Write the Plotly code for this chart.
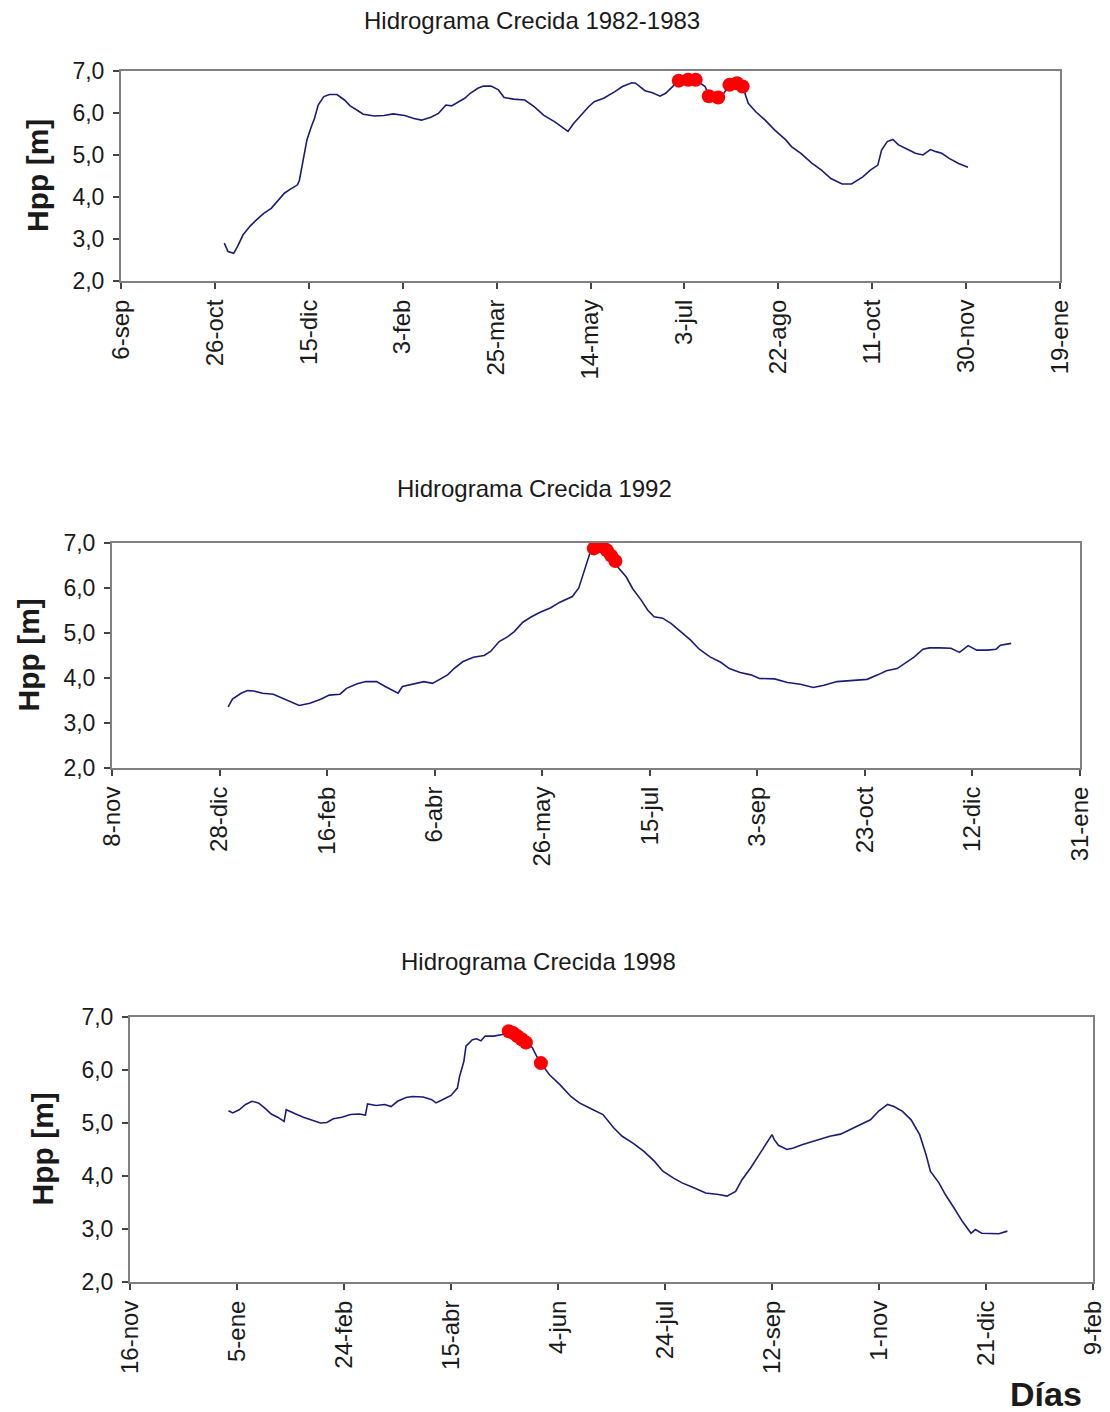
import pandas as pd
import plotly.graph_objects as go

W, H = 1110, 1412

# ---- Hidrograma Crecida 1982-1983 (days counted from 6-sep-1982) ----
start_1983 = "1982-09-06"
days_1983 = [55, 57, 60, 62, 65, 69, 72, 76, 80, 83, 87, 90, 94, 95, 97, 99, 101, 103, 105, 108,
             111, 115, 119, 122, 126, 129, 135, 140, 145, 151, 156, 160, 165, 169, 171, 173, 176,
             179, 183, 186, 190, 193, 197, 201, 204, 209, 215, 220, 225, 231, 235, 238, 241, 245,
             249, 252, 257, 263, 267, 272, 274, 279, 283, 287, 290, 294, 297, 302, 306, 311, 313,
             318, 321, 324, 328, 331, 334, 338, 343, 348, 354, 357, 362, 368, 373, 378, 384, 389,
             395, 399, 403, 405, 408, 411, 414, 419, 423, 427, 431, 434, 437, 441, 446, 451]
hpp_1983 = [2.90, 2.70, 2.66, 2.82, 3.10, 3.32, 3.45, 3.61, 3.73, 3.89, 4.09, 4.18, 4.29, 4.40,
            4.85, 5.36, 5.63, 5.87, 6.19, 6.39, 6.44, 6.44, 6.31, 6.17, 6.06, 5.97, 5.93, 5.94,
            5.98, 5.94, 5.87, 5.83, 5.90, 5.99, 6.09, 6.19, 6.17, 6.25, 6.35, 6.47, 6.59, 6.64,
            6.64, 6.55, 6.37, 6.33, 6.31, 6.15, 5.95, 5.79, 5.65, 5.56, 5.75, 5.95, 6.15, 6.27,
            6.35, 6.51, 6.63, 6.72, 6.71, 6.53, 6.48, 6.40, 6.47, 6.64, 6.77, 6.79, 6.79, 6.63,
            6.43, 6.35, 6.47, 6.67, 6.71, 6.63, 6.23, 6.03, 5.83, 5.60, 5.36, 5.20, 5.04, 4.80,
            4.64, 4.44, 4.31, 4.31, 4.48, 4.64, 4.76, 5.12, 5.32, 5.37, 5.24, 5.13, 5.04, 5.00,
            5.13, 5.08, 5.04, 4.92, 4.80, 4.71]
peak_days_1983 = [297, 302, 306, 313, 318, 324, 328, 331]
peak_hpp_1983 = [6.77, 6.79, 6.79, 6.40, 6.37, 6.67, 6.71, 6.63]
ticks_1983 = ["6-sep", "26-oct", "15-dic", "3-feb", "25-mar", "14-may", "3-jul",
              "22-ago", "11-oct", "30-nov", "19-ene"]

# ---- Hidrograma Crecida 1992 (days counted from 8-nov-1991) ----
start_1992 = "1991-11-08"
days_1992 = [54, 56, 60, 63, 66, 70, 75, 80, 84, 87, 92, 97, 101, 106, 109, 114, 118, 123, 127,
             130, 133, 135, 140, 145, 149, 153, 156, 159, 163, 168, 173, 176, 180, 184, 187, 191,
             195, 199, 204, 208, 214, 217, 220, 222, 224, 226, 228, 231, 233, 235, 239, 242, 246,
             249, 252, 256, 260, 264, 269, 273, 278, 283, 287, 292, 297, 301, 308, 314, 320, 326,
             331, 337, 345, 351, 356, 360, 365, 369, 373, 377, 380, 385, 390, 394, 398, 402, 407,
             411, 413, 418]
hpp_1992 = [3.36, 3.53, 3.66, 3.72, 3.71, 3.66, 3.64, 3.53, 3.44, 3.39, 3.44, 3.53, 3.62, 3.64,
            3.77, 3.87, 3.92, 3.92, 3.81, 3.73, 3.66, 3.81, 3.87, 3.92, 3.88, 3.98, 4.07, 4.21,
            4.36, 4.46, 4.50, 4.59, 4.81, 4.92, 5.03, 5.24, 5.36, 5.46, 5.56, 5.68, 5.81, 6.00,
            6.44, 6.75, 6.88, 6.99, 6.92, 6.81, 6.62, 6.47, 6.25, 5.99, 5.73, 5.51, 5.36, 5.33,
            5.21, 5.04, 4.84, 4.64, 4.47, 4.35, 4.21, 4.12, 4.07, 3.99, 3.98, 3.90, 3.86, 3.79,
            3.84, 3.92, 3.94, 3.97, 4.07, 4.16, 4.21, 4.35, 4.47, 4.64, 4.67, 4.67, 4.66, 4.57,
            4.72, 4.62, 4.62, 4.64, 4.73, 4.77]
peak_days_1992 = [224, 226, 228, 230, 232, 234]
peak_hpp_1992 = [6.88, 6.97, 6.92, 6.84, 6.72, 6.60]
ticks_1992 = ["8-nov", "28-dic", "16-feb", "6-abr", "26-may", "15-jul", "3-sep",
              "23-oct", "12-dic", "31-ene"]

# ---- Hidrograma Crecida 1998 (days counted from 16-nov-1997) ----
start_1998 = "1997-11-16"
days_1998 = [46, 48, 51, 54, 57, 60, 63, 66, 69, 72, 73, 75, 78, 81, 85, 89, 92, 95, 99, 103,
             107, 110, 111, 115, 119, 122, 125, 129, 132, 137, 141, 143, 146, 150, 153, 154, 156,
             157, 160, 162, 164, 166, 170, 174, 178, 180, 182, 184, 185, 188, 190, 192, 196, 201,
             206, 210, 215, 221, 226, 230, 235, 240, 245, 249, 254, 258, 264, 269, 275, 279, 283,
             286, 290, 293, 297, 300, 301, 303, 307, 310, 314, 318, 322, 327, 332, 336, 341, 346,
             350, 354, 357, 361, 365, 369, 372, 374, 378, 381, 385, 389, 393, 395, 398, 402, 406,
             410]
hpp_1998 = [5.23, 5.19, 5.25, 5.35, 5.41, 5.38, 5.28, 5.17, 5.11, 5.03, 5.25, 5.21, 5.16, 5.11,
            5.06, 5.00, 5.01, 5.08, 5.11, 5.16, 5.17, 5.15, 5.36, 5.33, 5.35, 5.31, 5.41, 5.48,
            5.50, 5.49, 5.44, 5.38, 5.44, 5.52, 5.66, 5.88, 6.16, 6.45, 6.57, 6.59, 6.55, 6.64,
            6.64, 6.67, 6.74, 6.72, 6.67, 6.59, 6.54, 6.42, 6.26, 6.13, 5.91, 5.72, 5.50, 5.38,
            5.28, 5.16, 4.91, 4.75, 4.62, 4.47, 4.28, 4.09, 3.96, 3.87, 3.77, 3.68, 3.65, 3.62,
            3.71, 3.93, 4.15, 4.34, 4.59, 4.78, 4.69, 4.58, 4.50, 4.53, 4.59, 4.64, 4.69, 4.75,
            4.79, 4.87, 4.97, 5.06, 5.23, 5.35, 5.31, 5.22, 5.06, 4.78, 4.40, 4.09, 3.87, 3.65,
            3.40, 3.14, 2.92, 2.99, 2.92, 2.91, 2.91, 2.96]
peak_days_1998 = [177, 179, 181, 183, 185, 192]
peak_hpp_1998 = [6.73, 6.70, 6.64, 6.58, 6.52, 6.13]
ticks_1998 = ["16-nov", "5-ene", "24-feb", "15-abr", "4-jun", "24-jul", "12-sep",
              "1-nov", "21-dic", "9-feb"]

y_ticks = [2, 3, 4, 5, 6, 7]
TICK_STEP = 50  # days between x ticks

LINE = "#1c1c78"
RED = "#ff0000"
FRAME = "#808080"
TXT = "#1a1a1a"
FONT = "Liberation Sans, Arial, sans-serif"


def to_dates(start, days):
    base = pd.Timestamp(start)
    return [(base + pd.Timedelta(days=d)).strftime("%Y-%m-%d") for d in days]


# panel boxes in pixels: (left, top, right, bottom), title centre, y-title x
panels = [
    dict(start=start_1983, days=days_1983, hpp=hpp_1983, pd_=peak_days_1983, ph=peak_hpp_1983,
         ticks=ticks_1983, title="Hidrograma Crecida 1982-1983",
         box=(121, 71, 1060, 281), tx=532, ty=20, yx=38),
    dict(start=start_1992, days=days_1992, hpp=hpp_1992, pd_=peak_days_1992, ph=peak_hpp_1992,
         ticks=ticks_1992, title="Hidrograma Crecida 1992",
         box=(112, 543, 1080, 768), tx=534, ty=489, yx=28),
    dict(start=start_1998, days=days_1998, hpp=hpp_1998, pd_=peak_days_1998, ph=peak_hpp_1998,
         ticks=ticks_1998, title="Hidrograma Crecida 1998",
         box=(130, 1017, 1093, 1282), tx=538, ty=961, yx=42),
]

fig = go.Figure()
annotations = []
layout_axes = {}

for i, p in enumerate(panels, start=1):
    xa = "x" if i == 1 else f"x{i}"
    ya = "y" if i == 1 else f"y{i}"
    fig.add_trace(go.Scatter(
        x=to_dates(p["start"], p["days"]), y=p["hpp"], mode="lines",
        line=dict(color=LINE, width=1.6), xaxis=xa, yaxis=ya, showlegend=False,
        hoverinfo="skip"))
    fig.add_trace(go.Scatter(
        x=to_dates(p["start"], p["pd_"]), y=p["ph"], mode="markers",
        marker=dict(color=RED, size=14, line=dict(width=0)),
        xaxis=xa, yaxis=ya, showlegend=False, hoverinfo="skip"))

    l, t, r, b = p["box"]
    n = len(p["ticks"])
    tick_days = [k * TICK_STEP for k in range(n)]
    tick_dates = to_dates(p["start"], tick_days)
    xkey = "xaxis" if i == 1 else f"xaxis{i}"
    ykey = "yaxis" if i == 1 else f"yaxis{i}"
    layout_axes[xkey] = dict(
        domain=[l / W, r / W], anchor=ya, type="date", automargin=False,
        range=[tick_dates[0], tick_dates[-1]],
        tickmode="array", tickvals=tick_dates, ticktext=p["ticks"], tickangle=-90,
        ticks="outside", ticklen=6, tickwidth=1.5, tickcolor="#444",
        showline=True, linecolor=FRAME, linewidth=2, mirror=True,
        showgrid=False, zeroline=False, ticklabelstandoff=1,
        tickfont=dict(family=FONT, size=24, color=TXT))
    layout_axes[ykey] = dict(
        domain=[1 - b / H, 1 - t / H], anchor=xa, range=[2, 7], automargin=False,
        tickmode="array", tickvals=y_ticks, tickformat=".1f",
        ticks="outside", ticklen=6, tickwidth=1.5, tickcolor="#444",
        showline=True, linecolor=FRAME, linewidth=2, mirror=True,
        showgrid=False, zeroline=False, ticklabelstandoff=4,
        tickfont=dict(family=FONT, size=23, color=TXT))

    annotations.append(dict(
        text=p["title"], x=p["tx"] / W, y=1 - p["ty"] / H, xref="paper", yref="paper",
        xanchor="center", yanchor="middle", showarrow=False,
        font=dict(family=FONT, size=24, color=TXT)))
    annotations.append(dict(
        text="<b>Hpp [m]</b>", x=p["yx"] / W, y=1 - ((t + b) / 2) / H,
        xref="paper", yref="paper", xanchor="center", yanchor="middle",
        textangle=-90, showarrow=False, font=dict(family=FONT, size=30, color=TXT)))

annotations.append(dict(
    text="<b>Días</b>", x=1046 / W, y=1 - 1394 / H, xref="paper", yref="paper",
    xanchor="center", yanchor="middle", showarrow=False,
    font=dict(family=FONT, size=34, color=TXT)))

fig.update_layout(
    width=W, height=H, margin=dict(l=0, r=0, t=0, b=0, autoexpand=False),
    paper_bgcolor="white", plot_bgcolor="white",
    separators=",.", annotations=annotations, **layout_axes)

fig.write_html("out.html")
